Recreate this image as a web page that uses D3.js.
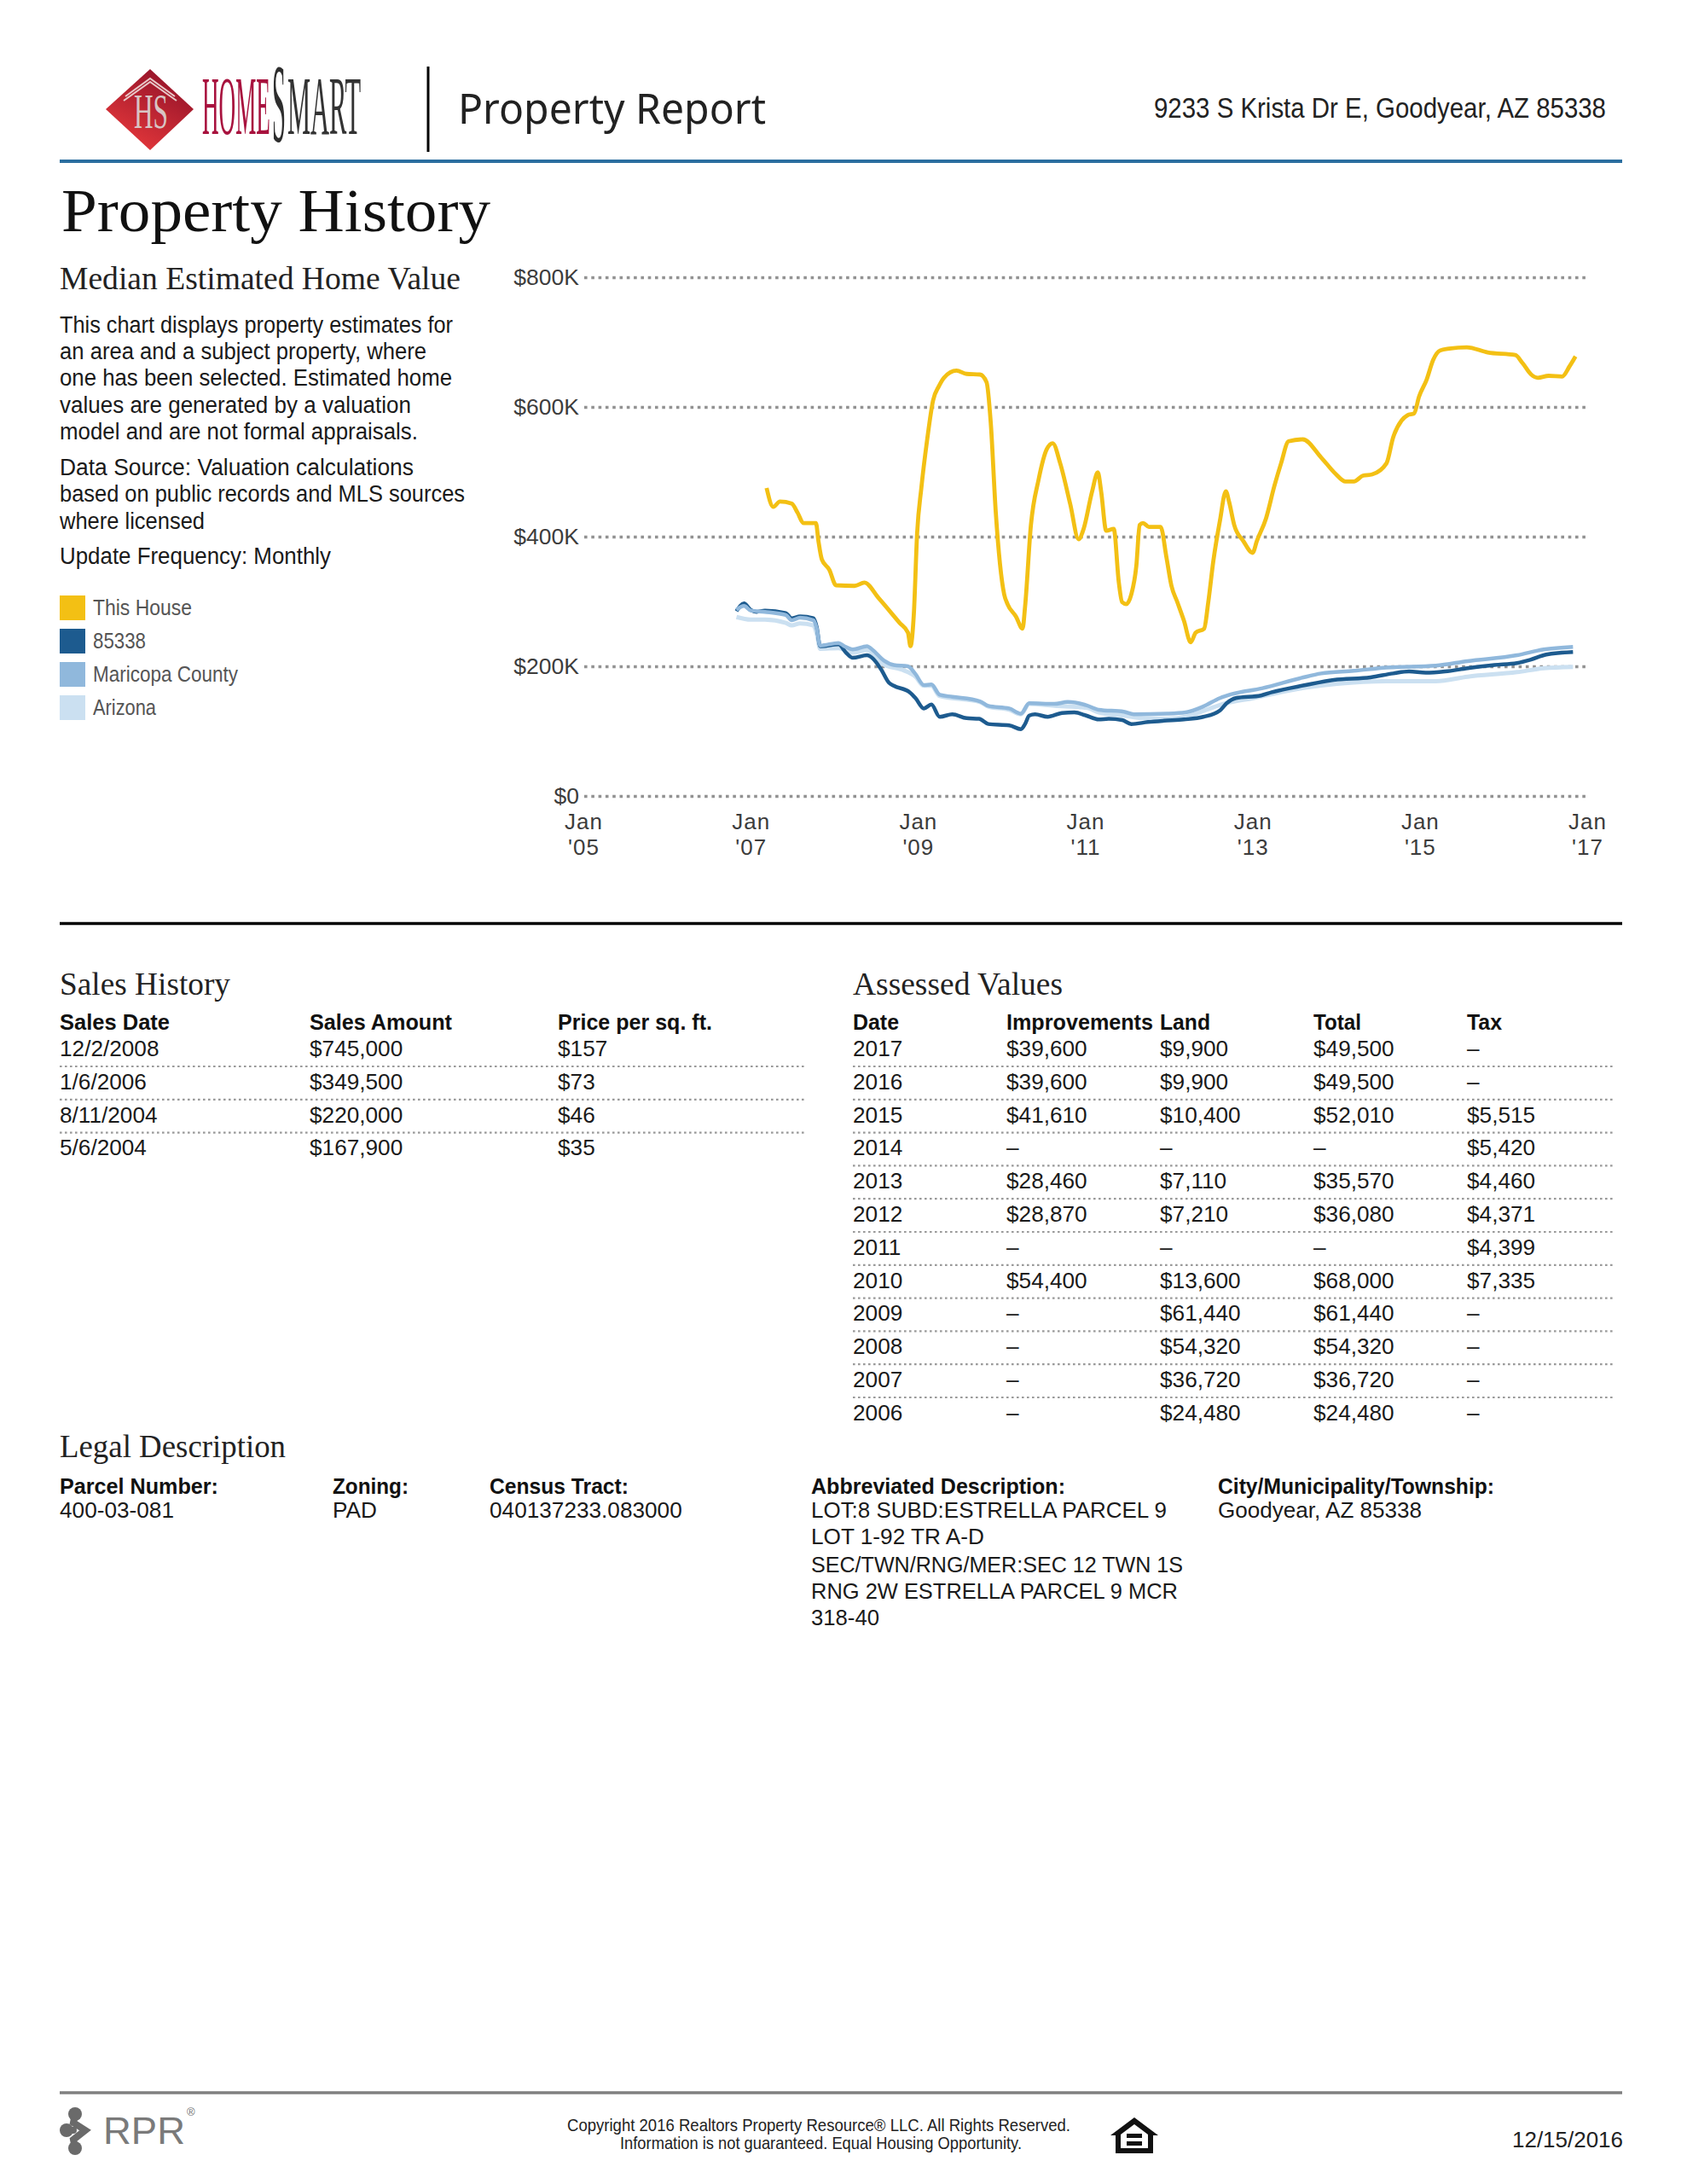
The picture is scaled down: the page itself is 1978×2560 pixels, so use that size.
<!DOCTYPE html>
<html><head><meta charset="utf-8">
<script src="https://cdn.jsdelivr.net/npm/d3@7"></script>
<style>html,body{margin:0;padding:0;background:#fff}svg{display:block}</style>
</head><body>
<svg id="page" width="1978" height="2560" xmlns="http://www.w3.org/2000/svg"></svg>
<script>
// ---------- chart data ----------
const yTicks = [0, 200, 400, 600, 800];
const xTicks = [2005, 2007, 2009, 2011, 2013, 2015, 2017];
const seriesNames = ["This House", "85338", "Maricopa County", "Arizona"];
const seriesColors = ["#f3c014", "#1d5b8f", "#90b8dc", "#cbe0f1"];

const houseYears = [2007.18,2007.26,2007.34,2007.48,2007.55,2007.62,2007.77,2007.80,2007.84,2007.93,2008.01,2008.23,2008.35,2008.52,2008.77,2008.87,2008.90,2008.94,2008.98,2009.03,2009.10,2009.17,2009.24,2009.30,2009.45,2009.57,2009.73,2009.81,2009.86,2009.92,2010.02,2010.06,2010.16,2010.24,2010.27,2010.34,2010.43,2010.53,2010.60,2010.69,2010.81,2010.91,2010.97,2011.07,2011.14,2011.18,2011.24,2011.33,2011.39,2011.43,2011.48,2011.54,2011.60,2011.64,2011.68,2011.75,2011.89,2011.96,2012.02,2012.09,2012.17,2012.25,2012.31,2012.41,2012.46,2012.52,2012.60,2012.67,2012.71,2012.77,2012.88,2012.99,2013.04,2013.15,2013.25,2013.33,2013.42,2013.59,2013.81,2013.98,2014.10,2014.20,2014.31,2014.42,2014.59,2014.67,2014.77,2014.84,2014.92,2014.98,2015.07,2015.15,2015.23,2015.34,2015.55,2015.80,2016.13,2016.22,2016.32,2016.40,2016.53,2016.69,2016.78,2016.85];
const houseValues = [475,446,454,451,437,421,421,393,365,349,325,324,329,305,267,252,231,280,406,475,550,610,632,645,656,651,650,638,575,437,311,296,277,258,292,418,487,535,544,513,450,396,412,469,499,469,409,412,330,299,296,311,355,418,421,415,415,368,324,299,270,237,252,258,299,362,425,470,453,418,393,375,393,428,478,513,547,550,522,497,485,485,494,496,513,553,579,587,590,616,642,673,687,690,692,684,680,667,650,645,648,647,663,678];

const zipYears = [2006.82,2006.91,2006.99,2007.06,2007.16,2007.41,2007.48,2007.58,2007.74,2007.78,2007.82,2007.84,2008.04,2008.13,2008.21,2008.38,2008.45,2008.55,2008.64,2008.70,2008.89,2008.96,2009.06,2009.15,2009.25,2009.40,2009.57,2009.72,2009.83,2010.08,2010.22,2010.27,2010.32,2010.39,2010.54,2010.71,2010.86,2011.00,2011.15,2011.27,2011.43,2011.54,2011.74,2011.93,2012.17,2012.40,2012.60,2012.68,2012.79,2013.09,2013.22,2013.62,2013.96,2014.40,2014.67,2014.86,2015.06,2015.29,2015.56,2015.88,2016.15,2016.31,2016.50,2016.82];
const zipValues = [285,297,287,284,286,282,274,277,274,260,231,231,234,221,213,217,212,195,175,170,160,151,135,141,122,126,120,119,111,109,103,111,124,126,122,128,129,124,118,119,117,111,114,116,118,122,132,143,151,155,160,171,179,183,189,192,190,192,197,202,205,210,218,222];

const maricopaYears = [2006.82,2006.91,2006.99,2007.16,2007.41,2007.48,2007.58,2007.74,2007.78,2007.82,2008.04,2008.11,2008.21,2008.38,2008.45,2008.58,2008.70,2008.87,2008.96,2009.06,2009.15,2009.25,2009.40,2009.73,2009.83,2010.08,2010.22,2010.32,2010.62,2010.78,2011.00,2011.15,2011.45,2011.57,2011.97,2012.19,2012.40,2012.60,2012.74,2013.10,2013.57,2013.81,2014.20,2014.59,2015.18,2015.56,2016.15,2016.47,2016.82];
const maricopaValues = [287,293,286,284,279,271,275,271,258,232,236,231,226,231,225,209,202,200,188,171,172,156,153,146,139,135,127,143,142,145,140,133,130,126,127,129,138,151,157,166,182,189,193,198,201,208,217,226,230];

const arizonaYears = [2006.82,2006.99,2007.16,2007.41,2007.48,2007.58,2007.74,2007.78,2007.82,2008.04,2008.21,2008.38,2008.58,2008.79,2008.96,2009.06,2009.15,2009.25,2009.73,2009.83,2010.08,2010.22,2010.32,2010.62,2011.00,2011.15,2011.45,2011.68,2011.97,2012.19,2012.44,2012.64,2013.00,2013.62,2014.00,2014.59,2015.18,2015.56,2016.15,2016.47,2016.82];
const arizonaValues = [276,272,272,267,263,266,263,250,227,228,221,225,203,195,184,170,170,154,145,138,133,126,142,139,136,129,124,120,119,122,133,142,151,167,173,177,177,184,191,197,199];

const salesHeaders = ["Sales Date","Sales Amount","Price per sq. ft."];
const salesDates = ["12/2/2008","1/6/2006","8/11/2004","5/6/2004"];
const salesAmounts = ["$745,000","$349,500","$220,000","$167,900"];
const salesPerSqFt = ["$157","$73","$46","$35"];

const assessedHeaders = ["Date","Improvements","Land","Total","Tax"];
const assessedYears = ["2017","2016","2015","2014","2013","2012","2011","2010","2009","2008","2007","2006"];
const assessedImprovements = ["$39,600","$39,600","$41,610","–","$28,460","$28,870","–","$54,400","–","–","–","–"];
const assessedLand = ["$9,900","$9,900","$10,400","–","$7,110","$7,210","–","$13,600","$61,440","$54,320","$36,720","$24,480"];
const assessedTotal = ["$49,500","$49,500","$52,010","–","$35,570","$36,080","–","$68,000","$61,440","$54,320","$36,720","$24,480"];
const assessedTax = ["–","–","$5,515","$5,420","$4,460","$4,371","$4,399","$7,335","–","–","–","–"];

const introLines = ["This chart displays property estimates for","an area and a subject property, where","one has been selected. Estimated home","values are generated by a valuation","model and are not formal appraisals."];
const sourceLines = ["Data Source: Valuation calculations","based on public records and MLS sources","where licensed"];
const legalDescLines = ["LOT:8 SUBD:ESTRELLA PARCEL 9","LOT 1-92 TR A-D","SEC/TWN/RNG/MER:SEC 12 TWN 1S","RNG 2W ESTRELLA PARCEL 9 MCR","318-40"];

// ---------- helpers ----------
const svg = d3.select("#page");
const SANS = "'Liberation Sans', Arial, sans-serif";
const SERIF = "'Liberation Serif', serif";
function label(x, y, str, o = {}) {
  const t = svg.append("text").attr("x", x).attr("y", y).text(str)
    .attr("font-family", o.family || SANS).attr("font-size", o.size || 26.2)
    .attr("font-weight", o.weight || "normal").attr("fill", o.fill || "#1a1a1a")
    .attr("text-anchor", o.anchor || "start");
  if (o.width) t.attr("textLength", o.width).attr("lengthAdjust", "spacingAndGlyphs");
  return t;
}
function squeezed(x, y, str, o) {
  const t = svg.append("text").attr("transform", `translate(${x},${y}) scale(${o.sx},1)`).text(str)
    .attr("font-family", SERIF).attr("font-size", o.size).attr("fill", o.fill);
  return t;
}
function rule(x1, x2, y, color, w, dash) {
  const l = svg.append("line").attr("x1", x1).attr("x2", x2).attr("y1", y).attr("y2", y)
    .attr("stroke", color).attr("stroke-width", w);
  if (dash) l.attr("stroke-dasharray", dash);
  return l;
}

// ---------- header ----------
const defs = svg.append("defs");
const grad = defs.append("linearGradient").attr("id", "dia").attr("x1", "0.8").attr("y1", "0").attr("x2", "0.2").attr("y2", "1");
grad.append("stop").attr("offset", "0").attr("stop-color", "#8e1028");
grad.append("stop").attr("offset", "1").attr("stop-color", "#ea3a3c");
svg.append("polygon").attr("points", "176,81 227,128 176,176 124,128").attr("fill", "url(#dia)");
svg.append("path").attr("d", "M145,118 L176,96 L207,118 M147,113 L176,92 L205,113").attr("fill", "none").attr("stroke", "#e8c8c8").attr("stroke-width", 2);
squeezed(157, 150, "HS", {size: 56, sx: 0.559, fill: "#d8c4c4"});
squeezed(237, 157, "HOME", {size: 98, sx: 0.277, fill: "#a8123e"});
squeezed(319, 166, "S", {size: 132, sx: 0.218, fill: "#2e2e2e"});
squeezed(337, 157, "MART", {size: 98, sx: 0.311, fill: "#333"});
rule(502, 502, 78, "#000", 3).attr("y2", 178);
label(537, 145, "Property Report", {family: "'Noto Sans', sans-serif", size: 50, fill: "#222", width: 361});
label(1883, 138, "9233 S Krista Dr E, Goodyear, AZ 85338", {size: 32.5, anchor: "end", fill: "#222", width: 530});
rule(70, 1902, 189, "#2b6e9f", 4);

label(72, 271, "Property History", {family: SERIF, size: 72, fill: "#111", width: 503});
label(70, 339, "Median Estimated Home Value", {family: SERIF, size: 37, fill: "#222", width: 470});

// ---------- left column ----------
const introWidths = [461, 430, 460, 412, 420];
const introY = [390, 421, 452, 484, 515];
introLines.forEach((s, i) => label(70, introY[i], s, {size: 27, width: introWidths[i]}));
const sourceWidths = [415, 475, 170];
const sourceY = [557, 588, 620];
sourceLines.forEach((s, i) => label(70, sourceY[i], s, {size: 27, width: sourceWidths[i]}));
label(70, 661, "Update Frequency: Monthly", {size: 27, width: 318});

seriesNames.forEach((n, i) => {
  const cy = 713 + i * 39;
  svg.append("rect").attr("x", 70).attr("y", cy - 15).attr("width", 30).attr("height", 29).attr("fill", seriesColors[i]);
  label(109, cy + 8, n, {size: 25, fill: "#555", width: [116, 62, 170, 74][i]});
});

// ---------- chart ----------
const x = d3.scaleLinear().domain([2005, 2017]).range([685, 1862]);
const y = d3.scaleLinear().domain([0, 800]).range([933, 325]);

const gy = svg.append("g").attr("transform", "translate(685,0)")
  .call(d3.axisLeft(y).tickValues(yTicks).tickSize(-1177).tickPadding(6).tickFormat(v => v === 0 ? "$0" : "$" + v + "K"));
gy.select(".domain").remove();
gy.selectAll(".tick line").attr("stroke", "#929292").attr("stroke-width", 3.6).attr("stroke-dasharray", "3.6 4.7");
gy.selectAll("text").attr("font-family", SANS).attr("font-size", 26.5).attr("fill", "#3c3c3c");

const gx = svg.append("g").attr("transform", "translate(0,933)")
  .call(d3.axisBottom(x).tickValues(xTicks).tickSize(0).tickFormat(""));
gx.select(".domain").remove();
gx.selectAll(".tick").each(function (v) {
  const g = d3.select(this);
  g.select("text").remove();
  ["Jan", "'" + String(v).slice(2)].forEach((s, i) => {
    g.append("text").attr("x", -1).attr("y", 39 + i * 30).attr("text-anchor", "middle").text(s)
      .attr("font-family", SANS).attr("font-size", 26).attr("letter-spacing", 1).attr("fill", "#3c3c3c");
  });
});

const line = d3.line().x(d => x(d[0])).y(d => y(d[1])).curve(d3.curveMonotoneX);
const seriesData = [
  {c: seriesColors[3], w: 5, xs: arizonaYears, ys: arizonaValues},
  {c: seriesColors[1], w: 4.5, xs: zipYears, ys: zipValues},
  {c: seriesColors[2], w: 4.5, xs: maricopaYears, ys: maricopaValues},
  {c: seriesColors[0], w: 4.8, xs: houseYears, ys: houseValues}
];
svg.append("g").selectAll("path").data(seriesData).join("path")
  .attr("fill", "none").attr("stroke", d => d.c).attr("stroke-width", d => d.w)
  .attr("stroke-linejoin", "round")
  .attr("d", d => line(d.xs.map((v, i) => [v, d.ys[i]])));
rule(70, 1902, 1082.5, "#000", 3.5);

// ---------- sales table ----------
label(70, 1166, "Sales History", {family: SERIF, size: 37, fill: "#222", width: 200});
const salesX = [70, 363, 654];
salesHeaders.forEach((s, i) => label(salesX[i], 1207, s, {weight: "bold", size: 25, fill: "#111", width: [129, 167, 181][i]}));
[salesDates, salesAmounts, salesPerSqFt].forEach((col, c) => col.forEach((s, r) => label(salesX[c], 1238 + r * 38.8, s)));
d3.range(3).forEach(i => rule(70, 945, 1250 + i * 38.8, "#9a9a9a", 2.2, "2.6 3.4"));

// ---------- assessed table ----------
label(1000, 1166, "Assessed Values", {family: SERIF, size: 37, fill: "#222", width: 246});
const assessedX = [1000, 1180, 1360, 1540, 1720];
assessedHeaders.forEach((s, i) => label(assessedX[i], 1207, s, {weight: "bold", size: 25, fill: "#111", width: [54, 172, 59, 56, 41][i]}));
[assessedYears, assessedImprovements, assessedLand, assessedTotal, assessedTax].forEach((col, c) =>
  col.forEach((s, r) => label(assessedX[c], 1238 + r * 38.8, s)));
d3.range(11).forEach(i => rule(1000, 1893, 1250 + i * 38.8, "#9a9a9a", 2.2, "2.6 3.4"));

// ---------- legal ----------
label(70, 1708, "Legal Description", {family: SERIF, size: 37, fill: "#222", width: 265});
[["Parcel Number:", 70, 186], ["Zoning:", 390, 89], ["Census Tract:", 574, 163], ["Abbreviated Description:", 951, 298], ["City/Municipality/Township:", 1428, 324]]
  .forEach(h => label(h[1], 1751, h[0], {weight: "bold", size: 25, fill: "#111", width: h[2]}));
label(70, 1779, "400-03-081"); label(390, 1779, "PAD"); label(574, 1779, "040137233.083000");
const legalY = [1779, 1810, 1843, 1874, 1905];
const legalW = [417, 203, 436, 430, 80];
legalDescLines.forEach((s, i) => label(951, legalY[i], s, {width: legalW[i]}));
label(1428, 1779, "Goodyear, AZ 85338", {width: 239});

// ---------- footer ----------
rule(70, 1902, 2453, "#808080", 3.5);
svg.append("path").attr("d", "M88,2478 L86,2488 L100,2497 L86,2508 L88,2518 M76,2497 L86,2497").attr("fill", "none").attr("stroke", "#6a6a6a").attr("stroke-width", 8).attr("stroke-linecap", "round");
svg.append("circle").attr("cx", 88).attr("cy", 2478).attr("r", 8).attr("fill", "#6a6a6a");
svg.append("circle").attr("cx", 88).attr("cy", 2518).attr("r", 8).attr("fill", "#6a6a6a");
svg.append("circle").attr("cx", 78).attr("cy", 2497).attr("r", 8).attr("fill", "#6a6a6a");
label(121, 2513, "RPR", {size: 44, fill: "#7a7a7a", width: 96});
label(219, 2480, "®", {size: 13, fill: "#6e6e6e"});
label(665, 2498, "Copyright 2016 Realtors Property Resource® LLC. All Rights Reserved.", {size: 21, width: 590, fill: "#222"});
label(727, 2519, "Information is not guaranteed. Equal Housing Opportunity.", {size: 21, width: 471, fill: "#222"});
svg.append("path").attr("fill", "#111").attr("fill-rule", "evenodd")
  .attr("d", "M1330,2482 L1358,2503 L1352,2503 L1352,2524 L1308,2524 L1308,2503 L1302,2503 Z M1330,2490 L1314,2502 L1314,2518 L1346,2518 L1346,2502 Z M1321,2501 L1339,2501 L1339,2506 L1321,2506 Z M1321,2510 L1339,2510 L1339,2515 L1321,2515 Z");
label(1773, 2517, "12/15/2016", {size: 26, width: 130, fill: "#222"});
</script>
</body></html>
